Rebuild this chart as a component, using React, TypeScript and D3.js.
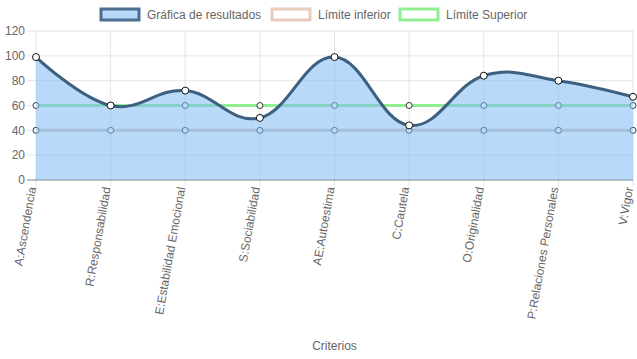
import React, { useEffect, useRef } from "react";
import * as d3 from "d3";

const categories = [
  "A:Ascendencia",
  "R:Responsabilidad",
  "E:Estabilidad Emocional",
  "S:Sociabilidad",
  "AE:Autoestima",
  "C:Cautela",
  "O:Originalidad",
  "P:Relaciones Personales",
  "V:Vigor",
];
const resultados = [99, 60, 72, 50, 99, 44, 84, 80, 67];
const limiteInferior = [40, 40, 40, 40, 40, 40, 40, 40, 40];
const limiteSuperior = [60, 60, 60, 60, 60, 60, 60, 60, 60];
const yTicks = [0, 20, 40, 60, 80, 100, 120];

const FONT = "'Liberation Sans', Arial, Helvetica, sans-serif";

const App = () => {
  const ref = useRef<HTMLDivElement>(null);

  useEffect(() => {
    const width = 637;
    const height = 359;
    const left = 36;
    const right = 633;
    const top = 31;
    const bottom = 180;

    const root = d3.select(ref.current);
    root.select("svg").remove();
    const svg = root
      .append("svg")
      .attr("width", width)
      .attr("height", height)
      .style("display", "block");

    const x = d3.scalePoint<string>().domain(categories).range([left, right]);
    const y = d3.scaleLinear().domain([0, 120]).range([bottom, top]);

    // grid
    const grid = svg.append("g");
    yTicks.forEach((t) => {
      grid
        .append("line")
        .attr("x1", left - 9)
        .attr("x2", right)
        .attr("y1", y(t))
        .attr("y2", y(t))
        .attr("stroke", t === 0 ? "rgba(0,0,0,0.25)" : "rgba(0,0,0,0.1)")
        .attr("stroke-width", t === 0 ? 2 : 1);
      svg
        .append("text")
        .attr("x", 25)
        .attr("y", y(t))
        .attr("dy", "0.35em")
        .attr("text-anchor", "end")
        .style("font-family", FONT)
        .style("font-size", "12px")
        .style("fill", "#666")
        .text(t);
    });
    categories.forEach((c) => {
      grid
        .append("line")
        .attr("x1", x(c)!)
        .attr("x2", x(c)!)
        .attr("y1", top)
        .attr("y2", bottom + 6)
        .attr("stroke", "rgba(0,0,0,0.1)");
      svg
        .append("text")
        .attr("transform", `translate(${x(c)! - 4},${bottom + 7}) rotate(-80)`)
        .attr("text-anchor", "end")
        .attr("dy", "0.35em")
        .style("font-family", FONT)
        .style("font-size", "12px")
        .style("fill", "#666")
        .text(c);
    });

    const curve = d3.curveCardinal.tension(-0.2);
    const line = d3
      .line<number>()
      .x((_, i) => x(categories[i])!)
      .y((d) => y(d));

    const drawPoints = (vals: number[], r: number, stroke: string) => {
      svg
        .append("g")
        .selectAll("circle")
        .data(vals)
        .join("circle")
        .attr("cx", (_, i) => x(categories[i])!)
        .attr("cy", (d) => y(d))
        .attr("r", r)
        .attr("fill", "#fff")
        .attr("stroke", stroke)
        .attr("stroke-width", 1);
    };

    // limit lines (drawn below the results area)
    svg
      .append("path")
      .attr("d", line.curve(d3.curveLinear)(limiteInferior))
      .attr("fill", "none")
      .attr("stroke", "rgb(215,200,195)")
      .attr("stroke-width", 3);
    drawPoints(limiteInferior, 3, "#333");
    svg
      .append("path")
      .attr("d", line.curve(d3.curveLinear)(limiteSuperior))
      .attr("fill", "none")
      .attr("stroke", "rgb(144,238,144)")
      .attr("stroke-width", 3);
    drawPoints(limiteSuperior, 3, "#333");

    // results area
    const area = d3
      .area<number>()
      .x((_, i) => x(categories[i])!)
      .y0(y(0))
      .y1((d) => y(d))
      .curve(curve);
    svg
      .append("path")
      .attr("d", area(resultados))
      .attr("fill", "rgba(125,185,240,0.55)");
    svg
      .append("path")
      .attr("d", line.curve(curve)(resultados))
      .attr("fill", "none")
      .attr("stroke", "#3d6080")
      .attr("stroke-width", 3);
    drawPoints(resultados, 3.5, "#111");

    // x axis title
    svg
      .append("text")
      .attr("x", (left + right) / 2)
      .attr("y", 350)
      .attr("text-anchor", "middle")
      .style("font-family", FONT)
      .style("font-size", "12px")
      .style("fill", "#666")
      .text("Criterios");

    // legend
    const legendItems = [
      { label: "Gráfica de resultados", fill: "rgb(184,217,247)", stroke: "#4a6f92", x: 101 },
      { label: "Límite inferior", fill: "#fff", stroke: "rgb(232,204,190)", x: 272 },
      { label: "Límite Superior", fill: "#fff", stroke: "rgb(144,238,144)", x: 400 },
    ];
    const legend = svg.append("g");
    legendItems.forEach((it) => {
      legend
        .append("rect")
        .attr("x", it.x)
        .attr("y", 9)
        .attr("width", 38)
        .attr("height", 11)
        .attr("fill", it.fill)
        .attr("stroke", it.stroke)
        .attr("stroke-width", 3);
      legend
        .append("text")
        .attr("x", it.x + 46)
        .attr("y", 15)
        .attr("dy", "0.35em")
        .style("font-family", FONT)
        .style("font-size", "12px")
        .style("fill", "#666")
        .text(it.label);
    });

    return () => {
      root.select("svg").remove();
    };
  }, []);

  return (
    <div
      ref={ref}
      style={{ position: "absolute", left: 0, top: 0, width: 637, height: 359, background: "#fff" }}
    ></div>
  );
};

export default App;
